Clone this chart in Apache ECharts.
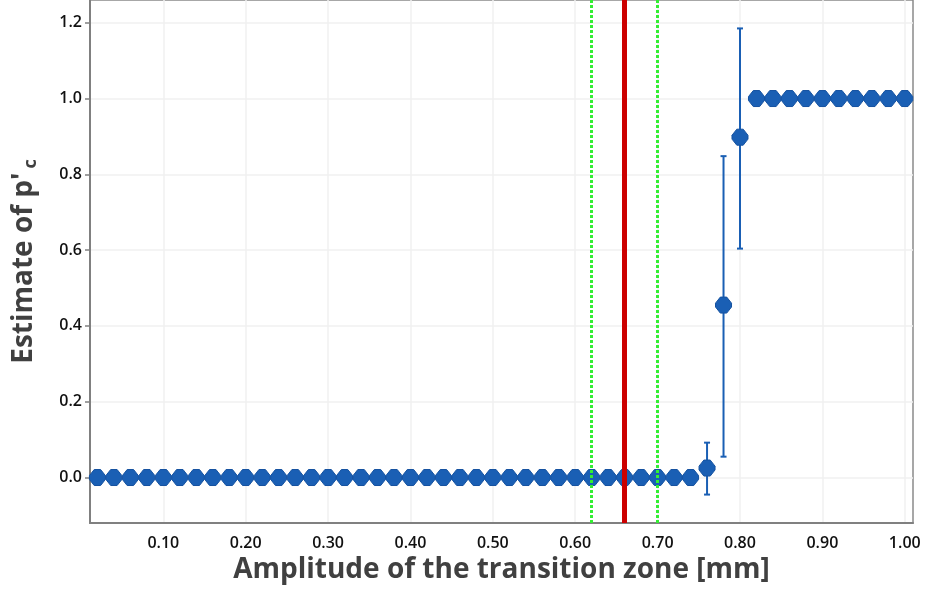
<!DOCTYPE html>
<html>
<head>
<meta charset="utf-8">
<script src="https://cdn.jsdelivr.net/npm/echarts@6/dist/echarts.min.js"></script>
<style>html,body{margin:0;padding:0;background:#fff}#c{width:925px;height:593px}</style>
</head>
<body>
<div id="c"></div>
<script>
// x positions (amplitude, mm)
const amplitude = [0.02,0.04,0.06,0.08,0.10,0.12,0.14,0.16,0.18,0.20,0.22,0.24,0.26,0.28,0.30,0.32,0.34,0.36,0.38,0.40,0.42,0.44,0.46,0.48,0.50,0.52,0.54,0.56,0.58,0.60,0.62,0.64,0.66,0.68,0.70,0.72,0.74,0.76,0.78,0.80,0.82,0.84,0.86,0.88,0.90,0.92,0.94,0.96,0.98,1.00];
const estimate  = [0,0,0,0,0,0,0,0,0,0,0,0,0,0,0,0,0,0,0,0,0,0,0,0,0,0,0,0,0,0,0,0,0,0,0,0,0,0.025,0.455,0.898,1,1,1,1,1,1,1,1,1,1];
// error bars (only where visible)
const errX    = [0.76, 0.78, 0.80];
const errLow  = [-0.045, 0.055, 0.604];
const errHigh = [0.092, 0.848, 1.185];
// vertical reference lines
const critical = 0.662;
const bounds = [0.623, 0.703];
// tick labels
const xTicks = [0.10,0.20,0.30,0.40,0.50,0.60,0.70,0.80,0.90,1.00];
const yTicks = [0.0,0.2,0.4,0.6,0.8,1.0,1.2];

const chart = echarts.init(document.getElementById('c'));
const font = '"Open Sans", "Noto Sans", sans-serif';
const pts = amplitude.map((x,i)=>[x, estimate[i]]);
const errs = errX.map((x,i)=>[x, errLow[i], errHigh[i]]);

chart.setOption({
  animation:false,
  grid:{left:90, right:12, top:0, bottom:70, containLabel:false, outerBoundsMode:'none', show:true, borderColor:'#8a8a8a', borderWidth:1.5},
  xAxis:{
    type:'value', min:0.011, max:1.01,
    name:'Amplitude of the transition zone [mm]', nameLocation:'middle', nameGap:31,
    nameTextStyle:{fontFamily:font, fontSize:28, fontWeight:'bold', color:'#404040'},
    axisLine:{show:true, onZero:false, lineStyle:{color:'#808080', width:2}},
    axisTick:{show:false, customValues:xTicks},
    axisLabel:{customValues:xTicks, formatter:v=>v.toFixed(2), fontFamily:font, fontSize:16, fontWeight:600, color:'#111', margin:12},
    splitLine:{show:true, lineStyle:{color:'#f0f0f0', width:1.5}}
  },
  yAxis:{
    type:'value', min:-0.12, max:1.26,
    name:"Estimate of p'{s|c}", nameLocation:'middle', nameGap:50,
    nameTextStyle:{fontFamily:font, fontSize:28, fontWeight:'bold', color:'#404040',
      rich:{s:{fontFamily:font, fontSize:18, fontWeight:'bold', color:'#404040', verticalAlign:'bottom', padding:[14,0,0,4]}}},
    axisLine:{show:true, onZero:false, lineStyle:{color:'#808080', width:2}},
    axisTick:{show:true, length:5, customValues:yTicks, lineStyle:{color:'#808080', width:1.5}},
    axisLabel:{customValues:yTicks, formatter:v=>v.toFixed(1), fontFamily:font, fontSize:16, fontWeight:600, color:'#111', margin:8},
    splitLine:{show:true, lineStyle:{color:'#f0f0f0', width:1.5}}
  },
  series:[
    {
      type:'custom', z:3,
      data:errs,
      renderItem:(params, api)=>{
        const x = api.value(0);
        const lo = api.coord([x, api.value(1)]);
        const hi = api.coord([x, api.value(2)]);
        const w = 3;
        const st = {stroke:'#1a5fb4', lineWidth:2};
        return {type:'group', children:[
          {type:'line', shape:{x1:lo[0],y1:lo[1],x2:hi[0],y2:hi[1]}, style:st},
          {type:'line', shape:{x1:lo[0]-w,y1:lo[1],x2:lo[0]+w,y2:lo[1]}, style:st},
          {type:'line', shape:{x1:hi[0]-w,y1:hi[1],x2:hi[0]+w,y2:hi[1]}, style:st}
        ]};
      }
    },
    {
      type:'scatter', z:4,
      data:pts,
      symbol:'path://M30,0 L70,0 L100,38 L100,62 L70,100 L30,100 L0,62 L0,38 Z',
      symbolSize:[16,16],
      itemStyle:{color:'#1a5fb4', borderColor:'#1552a0', borderWidth:1, opacity:1},
      markLine:{
        silent:true, symbol:'none', label:{show:false}, animation:false,
        data:[
          {xAxis:bounds[0], lineStyle:{color:'#33ee33', width:3, type:[3,2]}},
          {xAxis:bounds[1], lineStyle:{color:'#33ee33', width:3, type:[3,2]}},
          {xAxis:critical, lineStyle:{color:'#cc0000', width:5, type:'solid'}}
        ]
      }
    }
  ]
});
</script>
</body>
</html>
